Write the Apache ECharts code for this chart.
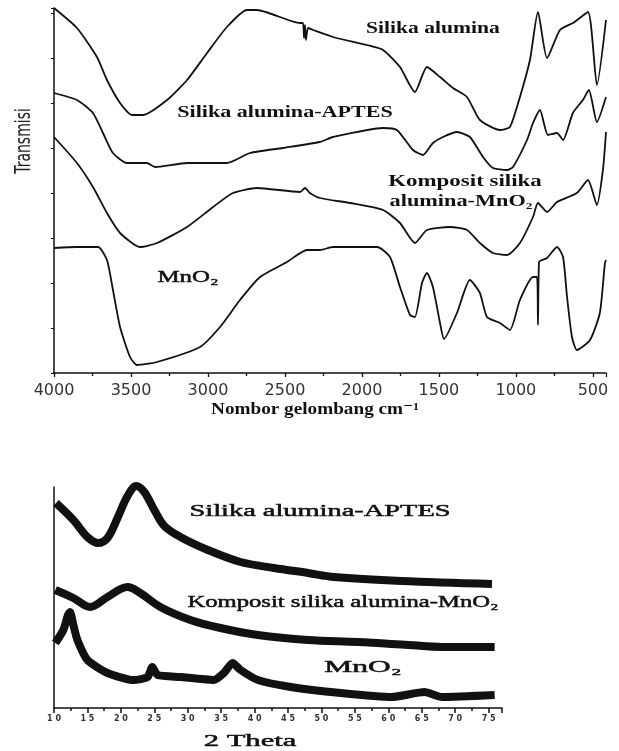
<!DOCTYPE html>
<html>
<head>
<meta charset="utf-8">
<script src="https://cdn.jsdelivr.net/npm/echarts@6/dist/echarts.min.js"></script>
<style>
  html, body { margin: 0; padding: 0; background: #fff; }
  #chart { width: 619px; height: 751px; }
</style>
</head>
<body>
<div id="chart"></div>
<script>
// FTIR spectra (wavenumber cm-1, transmittance in arbitrary offset units)
var silikaWave = [4000, 3851, 3721, 3656, 3571, 3493, 3422, 3266, 3136, 3006, 2877, 2747, 2682, 2402, 2383, 2376, 2370, 2364, 2350, 2318, 2188, 1967, 1863, 1753, 1656, 1578, 1493, 1409, 1318, 1234, 1104, 1039, 974, 909, 857, 798, 714, 630, 532, 474, 415];
var silikaT    = [365, 345, 316, 293, 270, 258, 258, 273, 293, 320, 346, 363, 363, 350, 350, 335, 348, 333, 345, 343, 336, 328, 323, 306, 281, 306, 296, 285, 276, 253, 243, 246, 276, 313, 361, 315, 343, 350, 361, 288, 353];

var aptesWave = [4000, 3851, 3747, 3682, 3617, 3526, 3396, 3344, 3136, 2877, 2727, 2513, 2273, 2188, 1863, 1773, 1669, 1604, 1539, 1474, 1383, 1299, 1214, 1149, 1058, 1019, 928, 889, 844, 792, 733, 694, 630, 565, 526, 474, 415];
var aptesT    = [280, 273, 260, 240, 220, 210, 210, 206, 210, 210, 220, 225, 231, 236, 245, 243, 223, 218, 230, 236, 241, 236, 216, 205, 203, 206, 233, 250, 263, 238, 240, 233, 260, 273, 283, 251, 276];

var kompWave = [4000, 3851, 3747, 3656, 3571, 3442, 3331, 3136, 2967, 2838, 2682, 2402, 2370, 2338, 2273, 2078, 1863, 1753, 1656, 1578, 1428, 1318, 1234, 1149, 1058, 974, 889, 857, 798, 733, 604, 532, 474, 435, 415];
var kompT    = [236, 210, 186, 160, 140, 126, 130, 146, 166, 180, 185, 181, 185, 180, 175, 170, 163, 150, 130, 143, 146, 143, 130, 120, 118, 130, 156, 170, 161, 171, 180, 193, 168, 203, 241];

var mnoWave = [4000, 3851, 3714, 3656, 3617, 3571, 3506, 3461, 3331, 3052, 2922, 2792, 2662, 2487, 2357, 2273, 2188, 1902, 1818, 1753, 1688, 1656, 1610, 1578, 1539, 1493, 1467, 1383, 1299, 1234, 1188, 1104, 1039, 974, 889, 863, 857, 850, 831, 798, 733, 694, 668, 636, 604, 519, 455, 422, 415];
var mnoT    = [125, 126, 126, 113, 83, 46, 16, 8, 11, 26, 46, 73, 96, 111, 123, 123, 126, 126, 116, 86, 58, 56, 90, 100, 86, 50, 34, 60, 93, 80, 56, 50, 43, 73, 96, 96, 48, 111, 113, 115, 126, 116, 76, 36, 23, 33, 60, 110, 113];

var ftirTicks = [4000, 3500, 3000, 2500, 2000, 1500, 1000, 500];

// XRD patterns (2 theta, intensity in arbitrary offset units)
var xrdAptesTheta = [10.3, 12.9, 15.0, 16.6, 18.0, 19.5, 21.0, 22.3, 23.5, 25.0, 26.5, 28.9, 33.0, 37.9, 42.9, 48.0, 51.9, 62.0, 75.5];
var xrdAptesI     = [205, 188, 171, 165, 170, 190, 212, 222, 216, 198, 182, 171, 158, 146, 140, 135, 131, 127, 124];

var xrdKompTheta = [10.2, 12.9, 15.4, 18.0, 21.0, 22.9, 25.9, 30.4, 34.9, 40.5, 48.0, 55.5, 63.0, 68.0, 75.9];
var xrdKompI     = [118, 110, 101, 111, 121, 115, 101, 88, 80, 73, 68, 66, 63, 61, 61];

var xrdMnoTheta = [10.2, 11.4, 12.1, 12.4, 12.9, 13.5, 15.0, 18.0, 21.9, 24.0, 24.7, 25.5, 28.9, 33.9, 35.4, 36.7, 37.9, 40.5, 45.4, 52.9, 60.5, 65.4, 68.0, 75.9];
var xrdMnoI     = [65, 78, 93, 96, 83, 68, 48, 35, 28, 31, 41, 33, 31, 28, 35, 45, 38, 28, 21, 15, 11, 16, 11, 13];

function pairs(xs, ys, sign) {
  return xs.map(function (x, i) { return [sign * x, ys[i]]; });
}

var chart = echarts.init(document.getElementById('chart'));

function lineSeries(data, axis, width, smooth) {
  return {
    type: 'line',
    xAxisIndex: axis,
    yAxisIndex: axis,
    data: data,
    symbol: 'none',
    smooth: smooth,
    clip: false,
    lineStyle: { color: '#111', width: width },
    silent: true
  };
}

function label(text, x, y, size, sx, bold, extra) {
  var el = {
    type: 'text',
    x: x,
    y: y,
    scaleX: sx,
    style: {
      text: text,
      fill: '#111',
      font: (bold ? 'bold ' : '') + size + 'px "Liberation Serif", "DejaVu Serif", serif',
      textAlign: 'center',
      textVerticalAlign: 'middle'
    }
  };
  if (extra) { for (var k in extra) { el.style[k] = extra[k]; } }
  return el;
}

var thick = { stroke: '#111', lineWidth: 0.5 };

var option = {
  backgroundColor: '#fff',
  animation: false,
  grid: [
    { left: 54, top: 8, width: 552, height: 365 },
    { left: 54, top: 487, width: 448, height: 221 }
  ],
  xAxis: [{
    gridIndex: 0,
    type: 'value',
    min: -4000,
    max: -415,
    interval: 500,
    axisLine: { lineStyle: { color: '#111', width: 1.5 } },
    axisTick: { length: 4, lineStyle: { color: '#111', width: 1.3 } },
    minorTick: { show: true, splitNumber: 2, length: 3, lineStyle: { color: '#111', width: 1.3 } },
    splitLine: { show: false },
    axisLabel: {
      margin: 10,
      showMaxLabel: false,
      color: '#333',
      fontFamily: 'DejaVu Sans',
      fontSize: 16,
      formatter: function (v) { return ftirTicks.indexOf(-v) >= 0 ? String(-v) : ''; }
    }
  }, {
    gridIndex: 1,
    type: 'value',
    min: 10,
    max: 77,
    interval: 5,
    axisLine: { lineStyle: { color: '#111', width: 1.5 } },
    axisTick: { length: 5, lineStyle: { color: '#111', width: 1.5 } },
    minorTick: { show: true, splitNumber: 2, length: 3, lineStyle: { color: '#111', width: 1.5 } },
    splitLine: { show: false },
    axisLabel: {
      margin: 7,
      showMaxLabel: false,
      color: '#333',
      fontFamily: 'DejaVu Sans',
      fontWeight: 'bold',
      fontSize: 8,
      formatter: function (v) { return String(v).split('').join(' '); }
    }
  }],
  yAxis: [{
    gridIndex: 0,
    type: 'value',
    min: 0,
    max: 365,
    interval: 45,
    axisLine: { show: true, lineStyle: { color: '#111', width: 1.5 } },
    axisTick: { show: true, length: 3, lineStyle: { color: '#111' } },
    axisLabel: { show: false },
    splitLine: { show: false }
  }, {
    gridIndex: 1,
    type: 'value',
    min: 0,
    max: 221,
    axisLine: { show: true, lineStyle: { color: '#111', width: 1.5 } },
    axisTick: { show: false },
    axisLabel: { show: false },
    splitLine: { show: false }
  }],
  series: [
    lineSeries(pairs(silikaWave, silikaT, -1), 0, 1.8, 0.2),
    lineSeries(pairs(aptesWave, aptesT, -1), 0, 1.8, 0.2),
    lineSeries(pairs(kompWave, kompT, -1), 0, 1.8, 0.2),
    lineSeries(pairs(mnoWave, mnoT, -1), 0, 1.8, 0.2),
    lineSeries(pairs(xrdAptesTheta, xrdAptesI, 1), 1, 8, 0.35),
    lineSeries(pairs(xrdKompTheta, xrdKompI, 1), 1, 8, 0.35),
    lineSeries(pairs(xrdMnoTheta, xrdMnoI, 1), 1, 8, 0.2)
  ],
  graphic: [
    // FTIR panel
    label('Silika alumina', 433, 29, 17, 1.27, true),
    label('Silika alumina-APTES', 285, 113, 17, 1.3, true),
    label('Komposit silika', 465, 182, 17, 1.35, true),
    label('alumina-MnO\u2082', 461, 202, 17, 1.31, true),
    label('MnO\u2082', 188, 278, 17, 1.46, false, thick),
    label('Nombor gelombang cm\u207B\u00B9', 315, 410, 16, 1.2, true),
    {
      type: 'text',
      x: 25,
      y: 141,
      rotation: Math.PI / 2,
      scaleY: 1.5,
      style: {
        text: 'Transmisi',
        fill: '#222',
        font: '14px "DejaVu Sans", sans-serif',
        textAlign: 'center',
        textVerticalAlign: 'middle'
      }
    },
    // XRD panel
    label('Silika alumina-APTES', 320, 512, 17, 1.67, false, thick),
    label('Komposit silika alumina-MnO\u2082', 343, 603, 17, 1.45, false, thick),
    label('MnO\u2082', 363, 668, 17, 1.85, false, thick),
    label('2 Theta', 250, 742, 17, 1.8, false, thick)
  ]
};

chart.setOption(option);
</script>
</body>
</html>
